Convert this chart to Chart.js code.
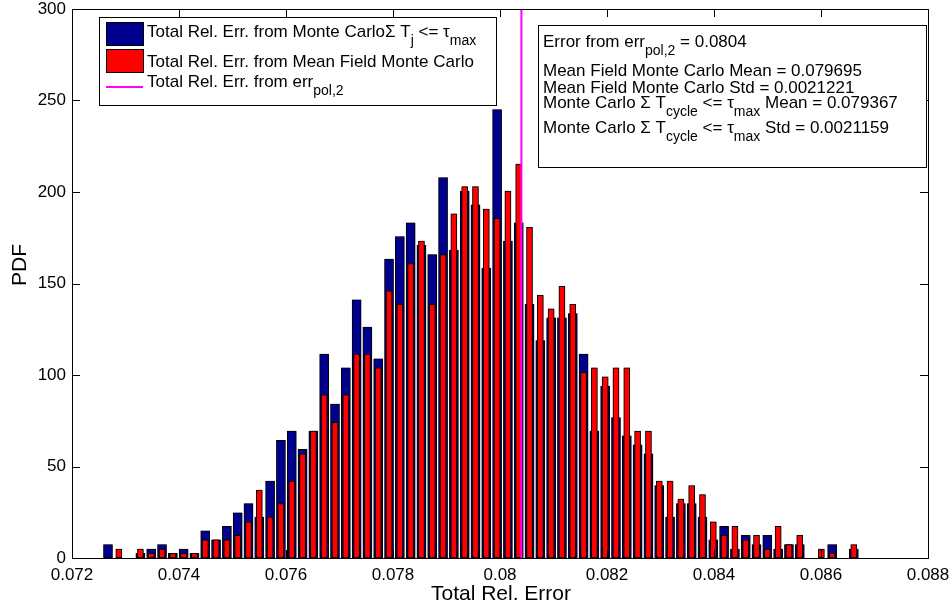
<!DOCTYPE html>
<html>
<head>
<meta charset="utf-8">
<title>Total Rel. Error PDF</title>
<script src="https://cdn.jsdelivr.net/npm/chart.js@4.4.0/dist/chart.umd.min.js"></script>
<style>
  html, body { margin: 0; padding: 0; background: #fff; }
  #wrap { width: 952px; height: 610px; }
</style>
</head>
<body>
<div id="wrap"><canvas id="pdfChart" width="952" height="610"></canvas></div>
<script>
// histogram bin centres, shared by both runs
var binCenters = [
    0.072673, 0.072875, 0.073077, 0.073279, 0.073481, 0.073683, 0.073885, 0.074087, 0.074289, 0.074491,
    0.074693, 0.074895, 0.075097, 0.075299, 0.075501, 0.075703, 0.075905, 0.076108, 0.076310, 0.076512,
    0.076714, 0.076916, 0.077118, 0.077320, 0.077522, 0.077724, 0.077926, 0.078128, 0.078330, 0.078532,
    0.078734, 0.078936, 0.079138, 0.079340, 0.079542, 0.079744, 0.079946, 0.080148, 0.080350, 0.080552,
    0.080754, 0.080956, 0.081158, 0.081360, 0.081562, 0.081764, 0.081966, 0.082168, 0.082370, 0.082572,
    0.082775, 0.082977, 0.083179, 0.083381, 0.083583, 0.083785, 0.083987, 0.084189, 0.084391, 0.084593,
    0.084795, 0.084997, 0.085199, 0.085401, 0.085603, 0.085805, 0.086007, 0.086209, 0.086411, 0.086613
];

// PDF of total rel. error, Monte Carlo with sum T_j <= tau_max
var monteCarloPdf = [
    7.4, 0, 0, 2.5, 4.9, 7.4, 2.5, 4.9, 2.5, 14.8,
    9.9, 17.3, 24.7, 29.7, 22.3, 42.1, 64.3, 69.3, 59.4, 69.3,
    111.4, 84.1, 103.9, 141.1, 126.2, 108.9, 163.3, 175.7, 183.1, 170.8,
    165.8, 207.9, 168.3, 200.5, 193.0, 158.4, 245.0, 173.2, 183.1, 138.6,
    118.8, 131.2, 131.2, 133.6, 111.4, 69.3, 94.0, 76.7, 66.8, 61.9,
    56.9, 39.6, 22.3, 29.7, 29.7, 22.3, 9.9, 17.3, 4.9, 12.4,
    7.4, 12.4, 4.9, 7.4, 7.4, 0, 0, 7.4, 0, 4.9
];

// PDF of total rel. error, mean field Monte Carlo
var meanFieldPdf = [
    0, 4.9, 0, 4.9, 2.5, 4.9, 2.5, 2.5, 2.5, 9.9,
    9.9, 9.9, 12.4, 19.8, 37.1, 22.3, 29.7, 42.1, 56.9, 69.3,
    89.1, 74.2, 89.1, 111.4, 111.4, 103.9, 146.0, 138.6, 160.9, 173.2,
    138.6, 165.8, 188.1, 202.9, 202.9, 190.6, 185.6, 200.5, 215.3, 180.7,
    143.5, 136.1, 148.5, 138.6, 101.5, 103.9, 99.0, 103.9, 103.9, 69.3,
    69.3, 42.1, 42.1, 32.2, 39.6, 34.6, 19.8, 12.4, 17.3, 9.9,
    12.4, 4.9, 17.3, 7.4, 12.4, 0, 4.9, 2.5, 0, 7.4
];

var xTickLabels = ['0.072', '0.074', '0.076', '0.078', '0.08', '0.082', '0.084', '0.086', '0.088'];
var yTickLabels = ['0', '50', '100', '150', '200', '250', '300'];

// summary numbers shown in the text box
var errPol2 = 0.0804;
var meanFieldMean = 0.079695;
var meanFieldStd = 0.0021221;
var monteCarloMean = 0.079367;
var monteCarloStd = 0.0021159;

var FONT = '"Liberation Sans", Arial, Helvetica, sans-serif';
var BLUE = '#00008f';
var RED = '#ff0000';
var MAGENTA = '#ff00ff';

function toPoints(values) {
    return values.map(function (v, i) { return { x: binCenters[i], y: v }; });
}

// text with tex-like subscripts: parts = [[text, isSub], ...]
function drawRich(ctx, parts, x, y) {
    parts.forEach(function (p) {
        ctx.font = (p[1] ? '14px ' : '17px ') + FONT;
        ctx.fillText(p[0], x, y + (p[1] ? 8 : 0));
        x += ctx.measureText(p[0]).width;
    });
}

// soft grey edge round the bars
var barHalo = {
    id: 'barHalo',
    beforeDatasetDraw: function (chart, args) {
        if (args.meta.type !== 'bar') return;
        var ctx = chart.ctx;
        ctx.save();
        ctx.shadowColor = 'rgba(0, 0, 0, 0.45)';
        ctx.shadowBlur = 2;
    },
    afterDatasetDraw: function (chart, args) {
        if (args.meta.type !== 'bar') return;
        chart.ctx.restore();
    }
};

// matlab style box with inward ticks on all four sides, axis labels, legend, text box
var axesBox = {
    id: 'axesBox',
    afterDatasetsDraw: function (chart) {
        var ctx = chart.ctx, a = chart.chartArea;
        var xs = chart.scales.x, ys = chart.scales.y;
        ctx.save();
        ctx.strokeStyle = '#000';
        ctx.lineWidth = 1;
        ctx.beginPath();
        xs.ticks.forEach(function (t) {
            var px = Math.round(xs.getPixelForValue(t.value)) + 0.5;
            ctx.moveTo(px, a.bottom); ctx.lineTo(px, a.bottom - 8);
            ctx.moveTo(px, a.top); ctx.lineTo(px, a.top + 8);
        });
        ys.ticks.forEach(function (t) {
            var py = Math.round(ys.getPixelForValue(t.value)) + 0.5;
            ctx.moveTo(a.left, py); ctx.lineTo(a.left + 8, py);
            ctx.moveTo(a.right, py); ctx.lineTo(a.right - 8, py);
        });
        ctx.stroke();
        ctx.strokeRect(Math.round(a.left) + 0.5, Math.round(a.top) + 0.5,
            Math.round(a.right - a.left), Math.round(a.bottom - a.top));

        // axis labels
        ctx.fillStyle = '#000';
        ctx.font = '21px ' + FONT;
        ctx.textAlign = 'center';
        ctx.textBaseline = 'alphabetic';
        ctx.fillText('Total Rel. Error', (a.left + a.right) / 2 + 1, 600);
        ctx.translate(26, 265);
        ctx.rotate(-Math.PI / 2);
        ctx.fillText('PDF', 0, 0);
        ctx.restore();
    },
    afterDraw: function (chart) {
        var ctx = chart.ctx;
        ctx.save();
        ctx.textBaseline = 'alphabetic';
        ctx.lineWidth = 1;

        // legend
        ctx.fillStyle = '#fff';
        ctx.fillRect(99, 17, 397, 88);
        ctx.strokeStyle = '#000';
        ctx.strokeRect(99.5, 17.5, 397, 88);
        ctx.fillStyle = BLUE;
        ctx.fillRect(106, 22, 37, 23);
        ctx.strokeRect(106.5, 22.5, 37, 23);
        ctx.fillStyle = RED;
        ctx.fillRect(106, 49, 37, 23);
        ctx.strokeRect(106.5, 49.5, 37, 23);
        ctx.strokeStyle = MAGENTA;
        ctx.lineWidth = 2;
        ctx.beginPath();
        ctx.moveTo(106, 87); ctx.lineTo(143, 87);
        ctx.stroke();
        ctx.lineWidth = 1;
        ctx.fillStyle = '#000';
        drawRich(ctx, [['Total Rel. Err. from Monte Carlo\u03A3 T'], ['j', 1], [' <= \u03C4'], ['max', 1]], 147, 37);
        drawRich(ctx, [['Total Rel. Err. from Mean Field Monte Carlo']], 147, 67);
        drawRich(ctx, [['Total Rel. Err. from err'], ['pol,2', 1]], 147, 87);

        // summary box
        ctx.fillStyle = '#fff';
        ctx.fillRect(538, 25, 388, 142);
        ctx.strokeStyle = '#000';
        ctx.strokeRect(538.5, 25.5, 388, 142);
        ctx.fillStyle = '#000';
        drawRich(ctx, [['Error from err'], ['pol,2', 1], [' = ' + errPol2]], 543, 47);
        drawRich(ctx, [['Mean Field Monte Carlo Mean = ' + meanFieldMean]], 543, 76);
        drawRich(ctx, [['Mean Field Monte Carlo Std = ' + meanFieldStd]], 543, 93);
        drawRich(ctx, [['Monte Carlo \u03A3 T'], ['cycle', 1], [' <= \u03C4'], ['max', 1], [' Mean = ' + monteCarloMean]], 543, 108);
        drawRich(ctx, [['Monte Carlo \u03A3 T'], ['cycle', 1], [' <= \u03C4'], ['max', 1], [' Std = ' + monteCarloStd]], 543, 133);
        ctx.restore();
    }
};

var ctx = document.getElementById('pdfChart').getContext('2d');

var chart = new Chart(ctx, {
    type: 'bar',
    data: {
        datasets: [
            {
                type: 'line',
                label: 'Total Rel. Err. from err_pol,2',
                data: [{ x: errPol2, y: 0 }, { x: errPol2, y: 300 }],
                borderColor: MAGENTA,
                borderWidth: 2,
                pointRadius: 0,
                fill: false,
                order: 0
            },
            {
                label: 'Total Rel. Err. from Mean Field Monte Carlo',
                data: toPoints(meanFieldPdf),
                backgroundColor: RED,
                borderColor: '#000',
                borderWidth: 1,
                borderSkipped: false,
                barThickness: 6,
                grouped: false,
                order: 1
            },
            {
                label: 'Total Rel. Err. from Monte Carlo',
                data: toPoints(monteCarloPdf),
                backgroundColor: BLUE,
                borderColor: '#000',
                borderWidth: 1,
                borderSkipped: false,
                barThickness: 9,
                grouped: false,
                order: 2
            }
        ]
    },
    options: {
        responsive: false,
        animation: false,
        devicePixelRatio: 1,
        layout: { padding: { top: 9, right: 24, left: 0, bottom: 0 } },
        plugins: {
            legend: { display: false },
            tooltip: { enabled: false }
        },
        scales: {
            x: {
                type: 'linear',
                min: 0.072,
                max: 0.088,
                offset: false,
                grid: { display: false, drawTicks: false },
                border: { display: false },
                ticks: {
                    stepSize: 0.002,
                    autoSkip: false,
                    maxRotation: 0,
                    padding: 7,
                    color: '#000',
                    font: { family: FONT, size: 17 },
                    callback: function (v) { return xTickLabels[Math.round((v - 0.072) / 0.002)]; }
                },
                afterFit: function (s) {
                    s.height = 52;
                    s.paddingLeft = 0;
                    s.paddingRight = 0;
                }
            },
            y: {
                min: 0,
                max: 300,
                grid: { display: false, drawTicks: false },
                border: { display: false },
                ticks: {
                    stepSize: 50,
                    padding: 6,
                    color: '#000',
                    font: { family: FONT, size: 17 },
                    callback: function (v) { return yTickLabels[Math.round(v / 50)]; }
                },
                afterFit: function (s) {
                    s.width = 72;
                    s.paddingTop = 0;
                    s.paddingBottom = 0;
                }
            }
        }
    },
    plugins: [barHalo, axesBox]
});
</script>
</body>
</html>
